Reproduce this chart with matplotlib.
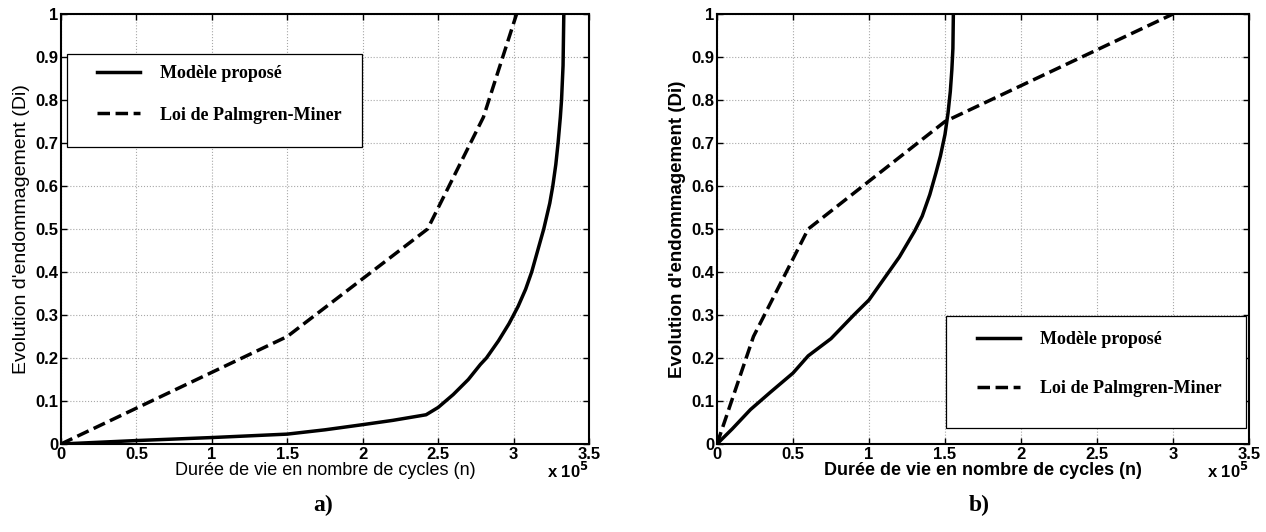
import matplotlib
matplotlib.use("Agg")
import matplotlib.pyplot as plt
from matplotlib.ticker import FuncFormatter
from matplotlib.patches import Rectangle

# ---- data (cycles, damage) ----
a_model_n = [0, 50000, 100000, 150000, 175000, 200000, 220000, 242000, 250000, 260000,
             270000, 278000, 282000, 290000, 297000, 303000, 308000, 312000, 316000,
             320000, 324000, 326000, 328000, 329500, 331000, 331800, 332800, 333300]
a_model_d = [0, 0.008, 0.015, 0.023, 0.033, 0.045, 0.055, 0.068, 0.085, 0.115,
             0.150, 0.185, 0.200, 0.240, 0.280, 0.320, 0.360, 0.400, 0.450,
             0.500, 0.560, 0.600, 0.650, 0.700, 0.760, 0.800, 0.880, 1.0]
a_miner_n = [0, 150000, 243000, 280000, 302000]
a_miner_d = [0, 0.25, 0.50, 0.76, 1.0]

b_model_n = [0, 10000, 22000, 35000, 50000, 60000, 75000, 90000, 100000, 113000, 120000,
             125000, 130000, 135000, 140000, 144000, 147000, 150000, 152000, 153500,
             154500, 155200, 155500]
b_model_d = [0, 0.035, 0.08, 0.12, 0.165, 0.205, 0.245, 0.30, 0.335, 0.40, 0.435,
             0.465, 0.495, 0.53, 0.58, 0.63, 0.67, 0.72, 0.77, 0.82,
             0.87, 0.92, 1.0]
b_miner_n = [0, 24000, 60000, 150000, 300000]
b_miner_d = [0, 0.25, 0.50, 0.75, 1.0]

labels = ["Modèle proposé", "Loi de Palmgren-Miner"]
xticks = [0, 50000, 100000, 150000, 200000, 250000, 300000, 350000]
yticks = [0, 0.1, 0.2, 0.3, 0.4, 0.5, 0.6, 0.7, 0.8, 0.9, 1.0]
xlabel = "Durée de vie en nombre de cycles (n)"
ylabel = "Evolution d'endommagement (Di)"
captions = ["a)", "b)"]

W, H = 1266, 532
fig = plt.figure(figsize=(W / 100, H / 100), dpi=100)
plt.rcParams['font.family'] = ['Liberation Sans', 'DejaVu Sans']

axA = fig.add_axes([61 / W, 1 - 444 / H, 528 / W, 430 / H])
axB = fig.add_axes([717 / W, 1 - 444 / H, 532 / W, 430 / H])


def fmt_x(v, p):
    return "%g" % (v / 1e5)


def fmt_y(v, p):
    return "%g" % v


def style(ax, bold_labels, frame_box, leg_anchor, spacing):
    ax.set_xlim(0, 350000)
    ax.set_ylim(0, 1)
    ax.set_xticks(xticks)
    ax.set_yticks(yticks)
    ax.xaxis.set_major_formatter(FuncFormatter(fmt_x))
    ax.yaxis.set_major_formatter(FuncFormatter(fmt_y))
    ax.tick_params(direction='in', top=True, right=True, length=4, width=1,
                   labelsize=12, pad=2)
    for lab in ax.get_xticklabels() + ax.get_yticklabels():
        lab.set_fontweight('bold')
    ax.grid(True, color='#a8a8a8', linewidth=0.8, linestyle=':')
    ax.set_axisbelow(True)
    for s in ax.spines.values():
        s.set_linewidth(1.5)
    fw = 'bold' if bold_labels else 'normal'
    ax.set_xlabel(xlabel, fontsize=13, fontweight=fw, labelpad=0)
    ax.set_ylabel(ylabel, fontsize=14 if not bold_labels else 13.5,
                  fontweight=fw, labelpad=4)
    ax.text(1.0, -0.04, r"x 10$^{\mathbf{5}}$", transform=ax.transAxes,
            ha='right', va='top', fontsize=12, fontweight='bold')
    x0, y0, w, h = frame_box
    ax.add_patch(Rectangle((x0, y0), w, h, transform=ax.transAxes,
                           facecolor='white', edgecolor='black', linewidth=0.9,
                           zorder=4))
    leg = ax.legend(loc='upper left', bbox_to_anchor=leg_anchor,
                    frameon=False,
                    prop={'family': 'Liberation Serif', 'weight': 'bold', 'size': 13},
                    handlelength=2.4, handletextpad=1.1, borderpad=0,
                    labelspacing=spacing, borderaxespad=0)
    leg.set_zorder(5)


for ax, (mn, md, pn, pd), bold, box, anchor, sp in [
        (axA, (a_model_n, a_model_d, a_miner_n, a_miner_d), False,
         (0.011, 0.691, 0.559, 0.216), (0.068, 0.881), 1.35),
        (axB, (b_model_n, b_model_d, b_miner_n, b_miner_d), True,
         (0.430, 0.037, 0.564, 0.260), (0.488, 0.263), 1.8)]:
    ax.plot(mn, md, color='black', linewidth=2.5, label=labels[0])
    ax.plot(pn, pd, color='black', linewidth=2.5, linestyle=(0, (3.6, 1.6)),
            label=labels[1])
    style(ax, bold, box, anchor, sp)

fig.text(323 / W, 1 - 505 / H, captions[0], ha='center', va='center',
         fontfamily='Liberation Serif', fontweight='bold', fontsize=17)
fig.text(979 / W, 1 - 505 / H, captions[1], ha='center', va='center',
         fontfamily='Liberation Serif', fontweight='bold', fontsize=17)

fig.savefig("out.png", dpi=100)
